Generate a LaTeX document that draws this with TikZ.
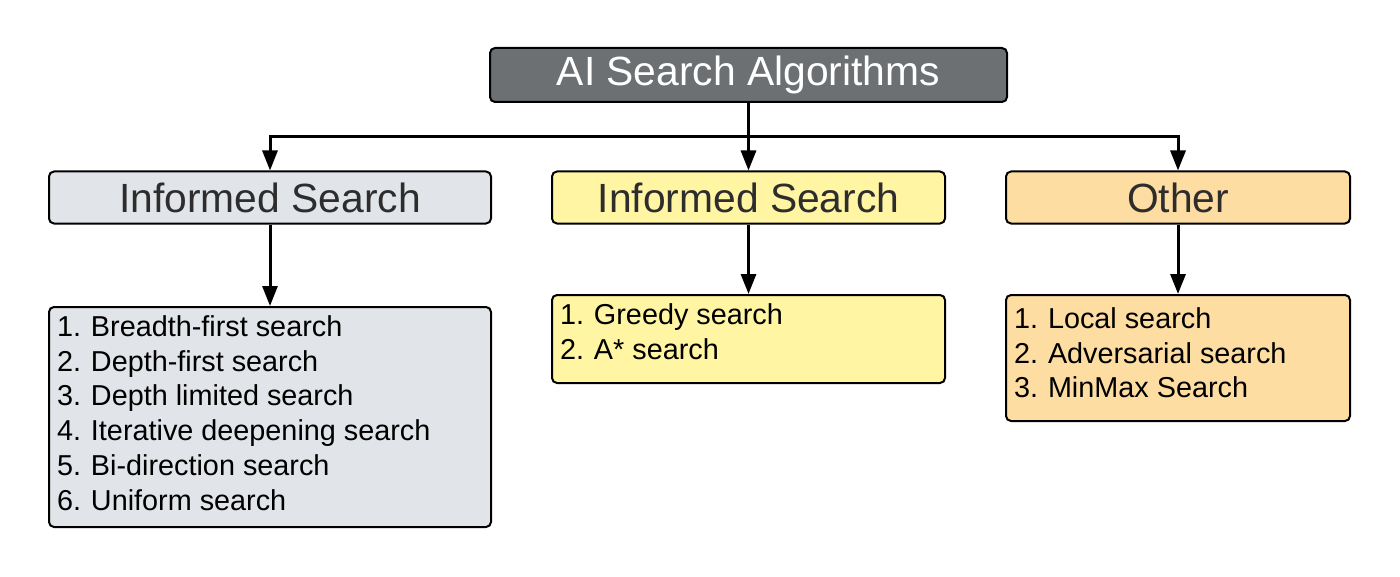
\documentclass[tikz,border=0pt]{standalone}
\usepackage{fontspec}
\setmainfont{Liberation Sans}
\usetikzlibrary{arrows.meta}

\definecolor{rootgray}{RGB}{108,112,115}
\definecolor{headtext}{RGB}{45,45,45}
\definecolor{uninf}{RGB}{225,228,232}
\definecolor{inf}{RGB}{255,245,163}
\definecolor{other}{RGB}{253,221,161}

% number in front of a list line
\newcommand\itm[1]{\makebox[17pt][l]{#1}}

\begin{document}
\begin{tikzpicture}[x=0.5pt,y=-0.5pt,
  box/.style={draw,rounded corners=2.5pt,line width=1pt,inner sep=0pt},
  head/.style={box,minimum height=26pt,font=\fontsize{20.4}{24}\selectfont,text=headtext},
  listbox/.style={box,anchor=north,inner xsep=4pt,font=\fontsize{14.4}{17.4}\selectfont},
  conn/.style={line width=1.5pt,-{Triangle[length=10pt,width=7.5pt]}}]

\useasboundingbox (0,0) rectangle (1400,577);

% root
\node[box,fill=rootgray,text=white,minimum width=258.5pt,minimum height=27pt,
      font=\fontsize{20.4}{24}\selectfont] (root) at (748.5,75) {AI Search Algorithms};

% headers
\node[head,fill=uninf,minimum width=221pt] (uninformed) at (270,197.5) {Informed Search};
\node[head,fill=inf,minimum width=196.5pt] (informed) at (748.5,197.5) {Informed Search};
\node[head,fill=other,minimum width=172pt] (others) at (1178,197.5) {Other};

% lists
\node[listbox,fill=uninf,inner ysep=4.2pt] (unlist) at (270,306)
  {\parbox[c][101.6pt][t]{213pt}{\itm{1.}Breadth-first search\\
   \itm{2.}Depth-first search\\ \itm{3.}Depth limited search\\
   \itm{4.}Iterative deepening search\\ \itm{5.}Bi-direction search\\
   \itm{6.}Uniform search}};
\node[listbox,fill=inf,inner ysep=4.2pt] (inlist) at (748.5,294)
  {\parbox[c][35.6pt][t]{188.5pt}{\itm{1.}Greedy search\\ \itm{2.}A* search}};
\node[listbox,fill=other,inner ysep=6.2pt] (otlist) at (1178,294)
  {\parbox[c][50.6pt][t]{164pt}{\itm{1.}Local search\\
   \itm{2.}Adversarial search\\ \itm{3.}MinMax Search}};

% connectors
\coordinate (bus) at (748.5,137);
\draw[conn] (root.south) -- (informed.north);
\draw[conn] (bus) -| (uninformed.north);
\draw[conn] (bus) -| (others.north);
\draw[conn] (uninformed.south) -- (unlist.north);
\draw[conn] (informed.south) -- (inlist.north);
\draw[conn] (others.south) -- (otlist.north);
\end{tikzpicture}
\end{document}
